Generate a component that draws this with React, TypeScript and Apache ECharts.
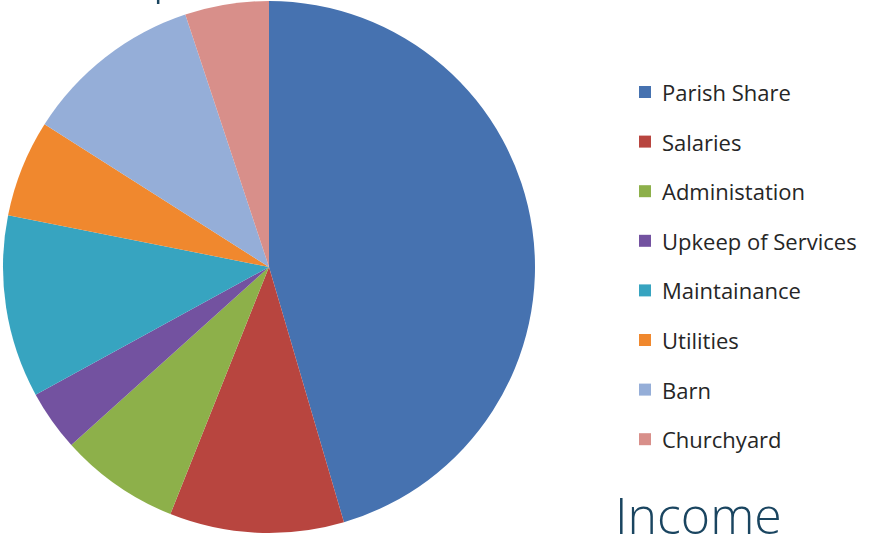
import React, { useEffect, useRef } from "react";
import * as echarts from "echarts";

const categories = [
  "Parish Share",
  "Salaries",
  "Administation",
  "Upkeep of Services",
  "Maintainance",
  "Utilities",
  "Barn",
  "Churchyard",
];
const values = [45.5, 10.6, 7.3, 3.7, 11.1, 5.9, 10.9, 5.1];
const colors = [
  "#4672B0",
  "#B8453F",
  "#8DB04A",
  "#7352A0",
  "#37A4C0",
  "#F0882E",
  "#95AED8",
  "#D88F8A",
];

export default function App() {
  const ref = useRef<HTMLDivElement>(null);
  useEffect(() => {
    if (!ref.current) return;
    const chart = echarts.init(ref.current, undefined, { renderer: "svg" });
    chart.setOption({
      animation: false,
      backgroundColor: "#ffffff",
      color: colors,
      legend: {
        orient: "vertical",
        left: 639,
        top: 80,
        padding: 0,
        icon: "rect",
        itemWidth: 12,
        itemHeight: 12,
        itemGap: 25.6,
        selectedMode: false,
        textStyle: {
          fontFamily: "Open Sans",
          fontSize: 22,
          lineHeight: 24,
          color: "#262626",
          padding: [0, 0, 0, 6],
        },
        data: categories,
      },
      graphic: [
        {
          type: "text",
          left: 615,
          top: 490,
          style: {
            text: "Income",
            fontFamily: "Open Sans",
            fontWeight: 300,
            fontSize: 50,
            fill: "#1A4560",
          },
        },
        {
          type: "text",
          left: 100,
          top: -52,
          style: {
            text: "Expenditure",
            fontFamily: "Open Sans",
            fontWeight: 300,
            fontSize: 50,
            fill: "#1A4560",
          },
        },
      ],
      series: [
        {
          type: "pie",
          center: [269, 267],
          radius: 266,
          startAngle: 90,
          clockwise: true,
          label: { show: false },
          labelLine: { show: false },
          emphasis: { disabled: true },
          itemStyle: { borderWidth: 0 },
          data: categories.map((name, i) => ({ name, value: values[i] })),
        },
      ],
    });
    return () => chart.dispose();
  }, []);
  return (
    <div
      ref={ref}
      style={{ position: "fixed", left: 0, top: 0, width: 877, height: 534 }}
    />
  );
}
